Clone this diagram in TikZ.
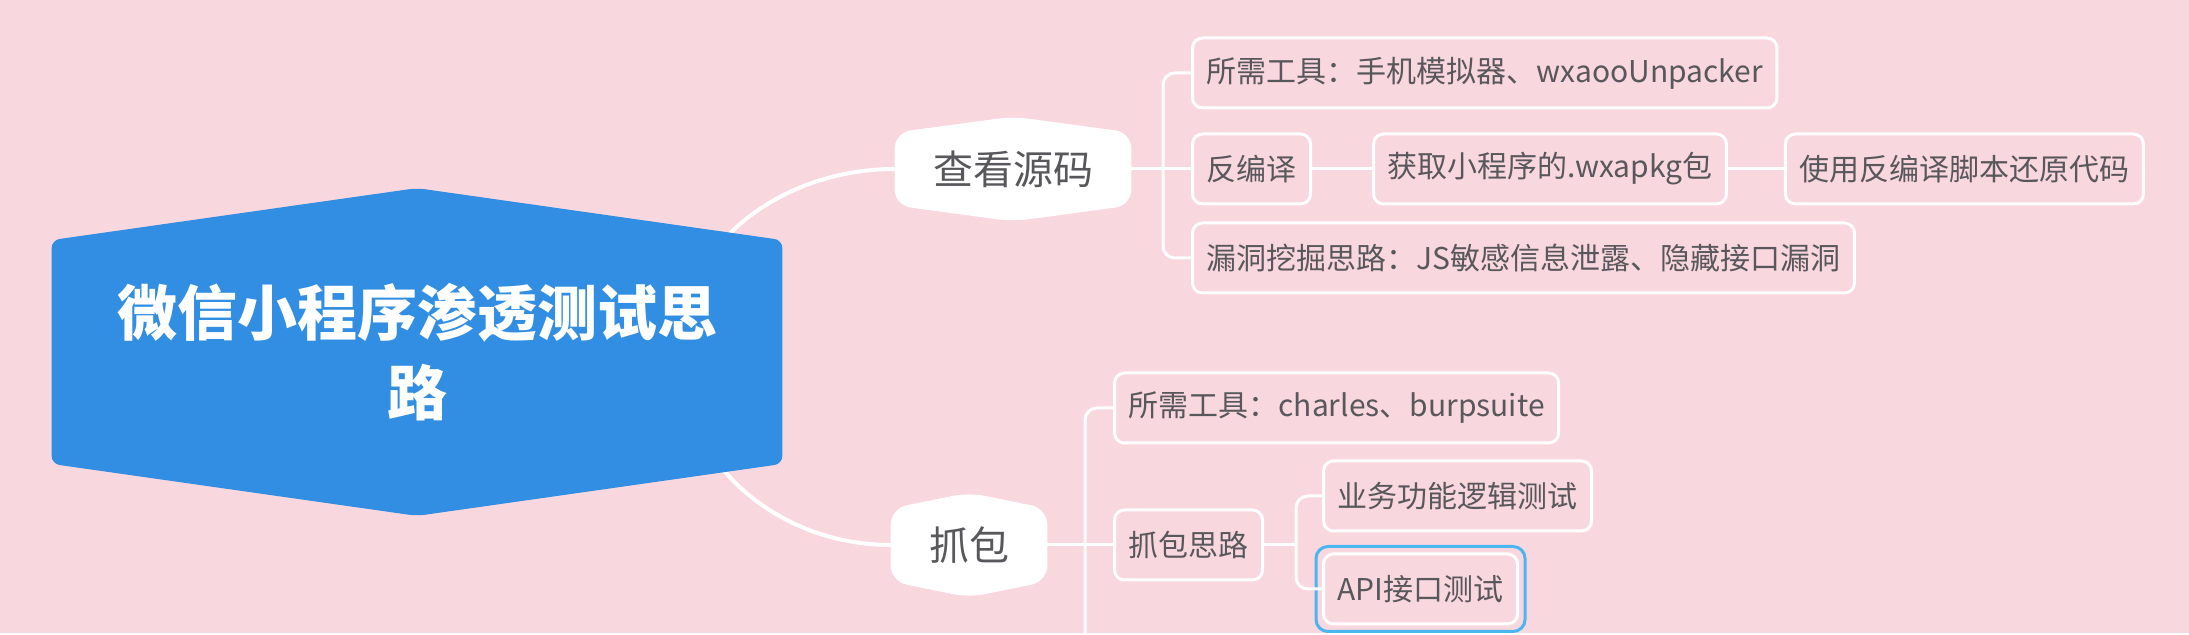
\documentclass[tikz,border=0pt]{standalone}
\usepackage{fontspec}
\setmainfont{Noto Sans CJK SC}
\usetikzlibrary{positioning, fit, backgrounds}
\definecolor{bgpink}{RGB}{249,215,222}
\definecolor{rootblue}{RGB}{50,142,226}
\definecolor{textgray}{RGB}{88,88,92}
\definecolor{selblue}{RGB}{74,182,240}
\tikzstyle{rootbox} = [rectangle, minimum width=365pt, minimum height=111.5pt, text centered, align=center, text=white, font=\fontsize{30}{40}\selectfont\bfseries]
\tikzstyle{branch} = [rectangle, minimum height=36pt, inner xsep=19pt, inner ysep=2pt, text=textgray, font=\fontsize{20}{24}\selectfont]
\tikzstyle{leaf} = [rectangle, rounded corners=5pt, draw=white, line width=1.5pt, minimum height=35pt, inner xsep=7pt, anchor=west, text=textgray, font=\fontsize{15}{18}\selectfont]
\tikzstyle{selected} = [rectangle, rounded corners=6pt, draw=selblue, line width=1.5pt, inner sep=3pt]
\tikzstyle{link} = [white, line width=2pt]
\tikzstyle{bracket} = [white, line width=1.5pt, rounded corners=6pt]

\begin{document}
\begin{tikzpicture}[x=0.5pt, y=-0.5pt]
 \begin{pgfonlayer}{background}
  \path [fill=bgpink, use as bounding box] (0,0) rectangle (2189,633);
 \end{pgfonlayer}

 \node (root) [rootbox] at (417,352) {微信小程序渗透测试思\\路};
 \node (src) [branch] at (1013,169) {查看源码};
 \node (grab) [branch] at (969,545) {抓包};

 \node (tool1) [leaf] at (1191,73) {所需工具：手机模拟器、wxaooUnpacker};
 \node (decomp) [leaf] at (1191,169) {反编译};
 \node (fetch) [leaf, right=30pt of decomp] {获取小程序的.wxapkg包};
 \node (restore) [leaf, right=28pt of fetch] {使用反编译脚本还原代码};
 \node (vuln) [leaf] at (1191,258) {漏洞挖掘思路：JS敏感信息泄露、隐藏接口漏洞};

 \node (tool2) [leaf] at (1113,408) {所需工具：charles、burpsuite};
 \node (idea) [leaf] at (1113,545) {抓包思路};
 \node (biz) [leaf] at (1322,496) {业务功能逻辑测试};
 \node (api) [leaf] at (1322,589) {API接口测试};
 \node (apisel) [selected, fit=(api)] {};

 \coordinate (hub) at (680,352);
 \coordinate (srcfork) at (1163,169);
 \coordinate (grabend) at (1085,633);
 \coordinate (ideafork) at (1296,545);

 \begin{pgfonlayer}{background}
  \draw [link] (hub) to [out=90, in=180] (src.west);
  \draw [link] (hub) to [out=-90, in=180] (grab.west);

  \fill [rootblue, rounded corners=4pt] (root.north west) -- ([yshift=26pt]root.north) -- (root.north east)
   -- (root.south east) -- ([yshift=-26pt]root.south) -- (root.south west) -- cycle;
  \fill [white, rounded corners=8pt] (src.north west) -- ([yshift=8pt]src.north) -- (src.north east)
   -- (src.south east) -- ([yshift=-8pt]src.south) -- (src.south west) -- cycle;
  \fill [white, rounded corners=8pt] (grab.north west) -- ([yshift=8pt]grab.north) -- (grab.north east)
   -- (grab.south east) -- ([yshift=-8pt]grab.south) -- (grab.south west) -- cycle;
 \end{pgfonlayer}

 \draw [bracket] (src.east) -- (decomp.west);
 \draw [bracket] (tool1.west) -| (srcfork) |- (vuln.west);
 \draw [bracket] (decomp.east) -- (fetch.west);
 \draw [bracket] (fetch.east) -- (restore.west);

 \draw [bracket] (grab.east) -- (idea.west);
 \draw [bracket] (tool2.west) -| (grabend);
 \draw [bracket] (idea.east) -- (ideafork);
 \draw [bracket] (biz.west) -| (ideafork) |- (api.west);

\end{tikzpicture}
\end{document}
